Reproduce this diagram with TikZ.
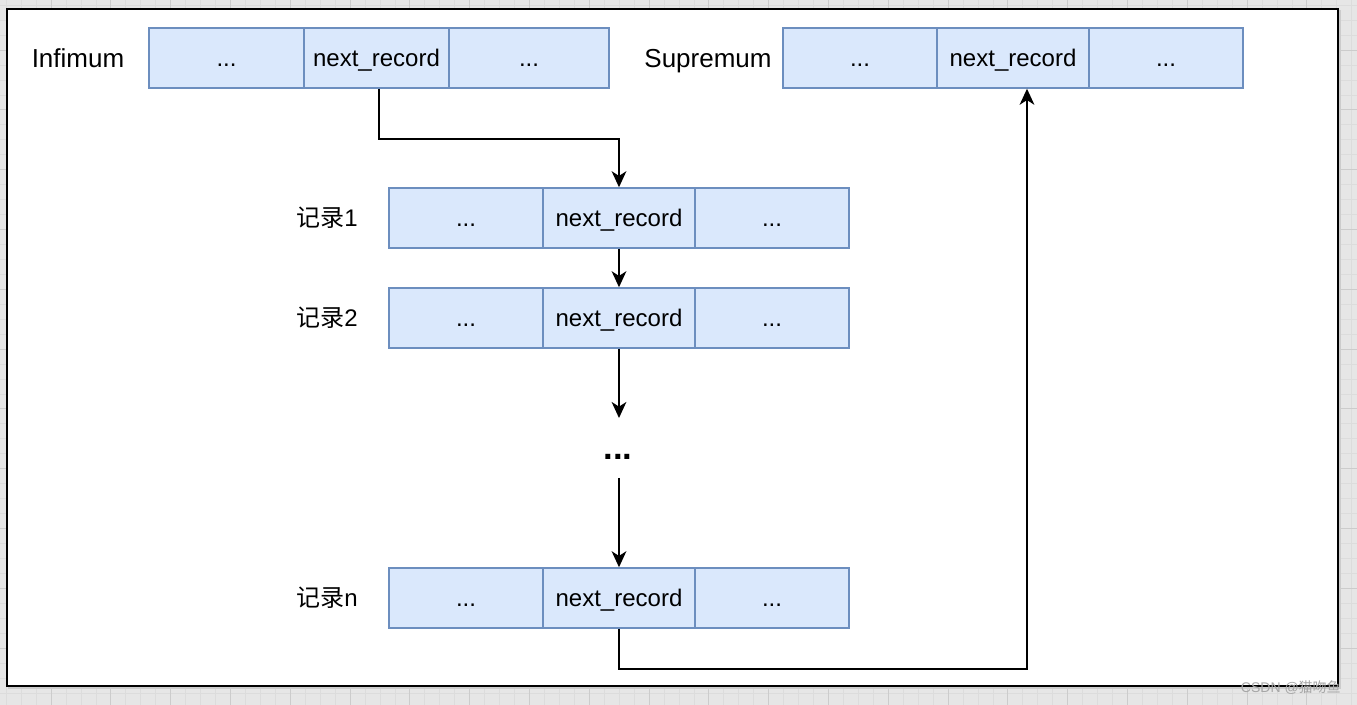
\documentclass[tikz,border=0pt]{standalone}
\usepackage{fontspec}
\setmainfont{Liberation Sans}
\newfontfamily\cjk{Noto Sans CJK SC}
\usetikzlibrary{arrows.meta}
\definecolor{cellfill}{HTML}{DAE8FC}
\definecolor{celldraw}{HTML}{6C8EBF}
\definecolor{gridbg}{HTML}{E6E6E6}
\definecolor{gridminor}{HTML}{DCDCDC}
\definecolor{gridmajor}{HTML}{CCCCCC}
\begin{document}
\begin{tikzpicture}[x=0.75pt,y=-0.75pt,
  cell/.style={draw=celldraw,fill=cellfill,line width=1.1pt,minimum height=45pt,inner sep=0pt,text height=13pt,text depth=0pt,font=\fontsize{18}{20}\selectfont},
  lab/.style={inner sep=0pt,text height=13pt,text depth=0pt,font=\fontsize{18}{20}\selectfont},
  biglab/.style={inner sep=0pt,text height=14pt,text depth=0pt,font=\fontsize{19.5}{22}\selectfont},
  arr/.style={line width=1.5pt,-{Stealth[length=12pt,width=11pt,inset=3.5pt]}}]
\useasboundingbox (0,0) rectangle (1357,705);
% background grid
\fill[gridbg] (0,0) rectangle (1357,705);
\foreach \k in {0,...,92} {
  \draw[gridminor,line width=0.5pt] ({-8.8+14.95*\k},0) -- ({-8.8+14.95*\k},705);
}
\foreach \k in {0,...,48} {
  \draw[gridminor,line width=0.5pt] (0,{-9.8+14.95*\k}) -- (1357,{-9.8+14.95*\k});
}
\foreach \k in {0,...,23} {
  \draw[gridmajor,line width=0.6pt] ({-8.8+59.8*\k},0) -- ({-8.8+59.8*\k},705);
}
\foreach \k in {0,...,12} {
  \draw[gridmajor,line width=0.6pt] (0,{-9.8+59.8*\k}) -- (1357,{-9.8+59.8*\k});
}
% frame
\draw[gray!40,line width=1.2pt] (9,11) rectangle (1340,688);
\draw[fill=white,line width=1.5pt] (7,9) rectangle (1338,686);

% Infimum row
\node[biglab] (linf) at (78,58) {Infimum};
\node[cell,minimum width=116.25pt] (i1) at (226.5,58) {...};
\node[cell,minimum width=108.75pt] (i2) at (376.5,58) {next\_record};
\node[cell,minimum width=120pt] (i3) at (529,58) {...};
% Supremum row
\node[biglab] (lsup) at (708,58) {Supremum};
\node[cell,minimum width=115.5pt] (s1) at (860,58) {...};
\node[cell,minimum width=114pt] (s2) at (1013,58) {next\_record};
\node[cell,minimum width=115.5pt] (s3) at (1166,58) {...};
% record 1
\node[lab] (l1) at (327,218) {{\cjk 记录}1};
\node[cell,minimum width=115.5pt] (r1a) at (466,218) {...};
\node[cell,minimum width=114pt] (r1b) at (619,218) {next\_record};
\node[cell,minimum width=115.5pt] (r1c) at (772,218) {...};
% record 2
\node[lab] (l2) at (327,318) {{\cjk 记录}2};
\node[cell,minimum width=115.5pt] (r2a) at (466,318) {...};
\node[cell,minimum width=114pt] (r2b) at (619,318) {next\_record};
\node[cell,minimum width=115.5pt] (r2c) at (772,318) {...};
% record n
\node[lab] (ln) at (327,598) {{\cjk 记录}n};
\node[cell,minimum width=115.5pt] (rna) at (466,598) {...};
\node[cell,minimum width=114pt] (rnb) at (619,598) {next\_record};
\node[cell,minimum width=115.5pt] (rnc) at (772,598) {...};
% dots
\node[inner sep=0pt,font=\bfseries\fontsize{26}{28}\selectfont,anchor=base] (dots) at (618,460) {...};
\coordinate (dtop) at (619,418);
\coordinate (dbot) at (619,478);

% connectors
\draw[arr] ([xshift=1.9pt]i2.south) -- ++(0,50) -| (r1b.north);
\draw[arr] (r1b.south) -- (r2b.north);
\draw[arr] (r2b.south) -- (dtop);
\draw[arr] (dbot) -- (rnb.north);
\draw[arr] (rnb.south) -- ++(0,40) -| ([xshift=10.5pt]s2.south);

% watermark
\node[inner sep=0pt,text=gray!70,font=\fontsize{10.5}{12}\selectfont,anchor=east] (wm) at (1341,688) {CSDN @{\cjk 猫吻鱼}};
\end{tikzpicture}
\end{document}
